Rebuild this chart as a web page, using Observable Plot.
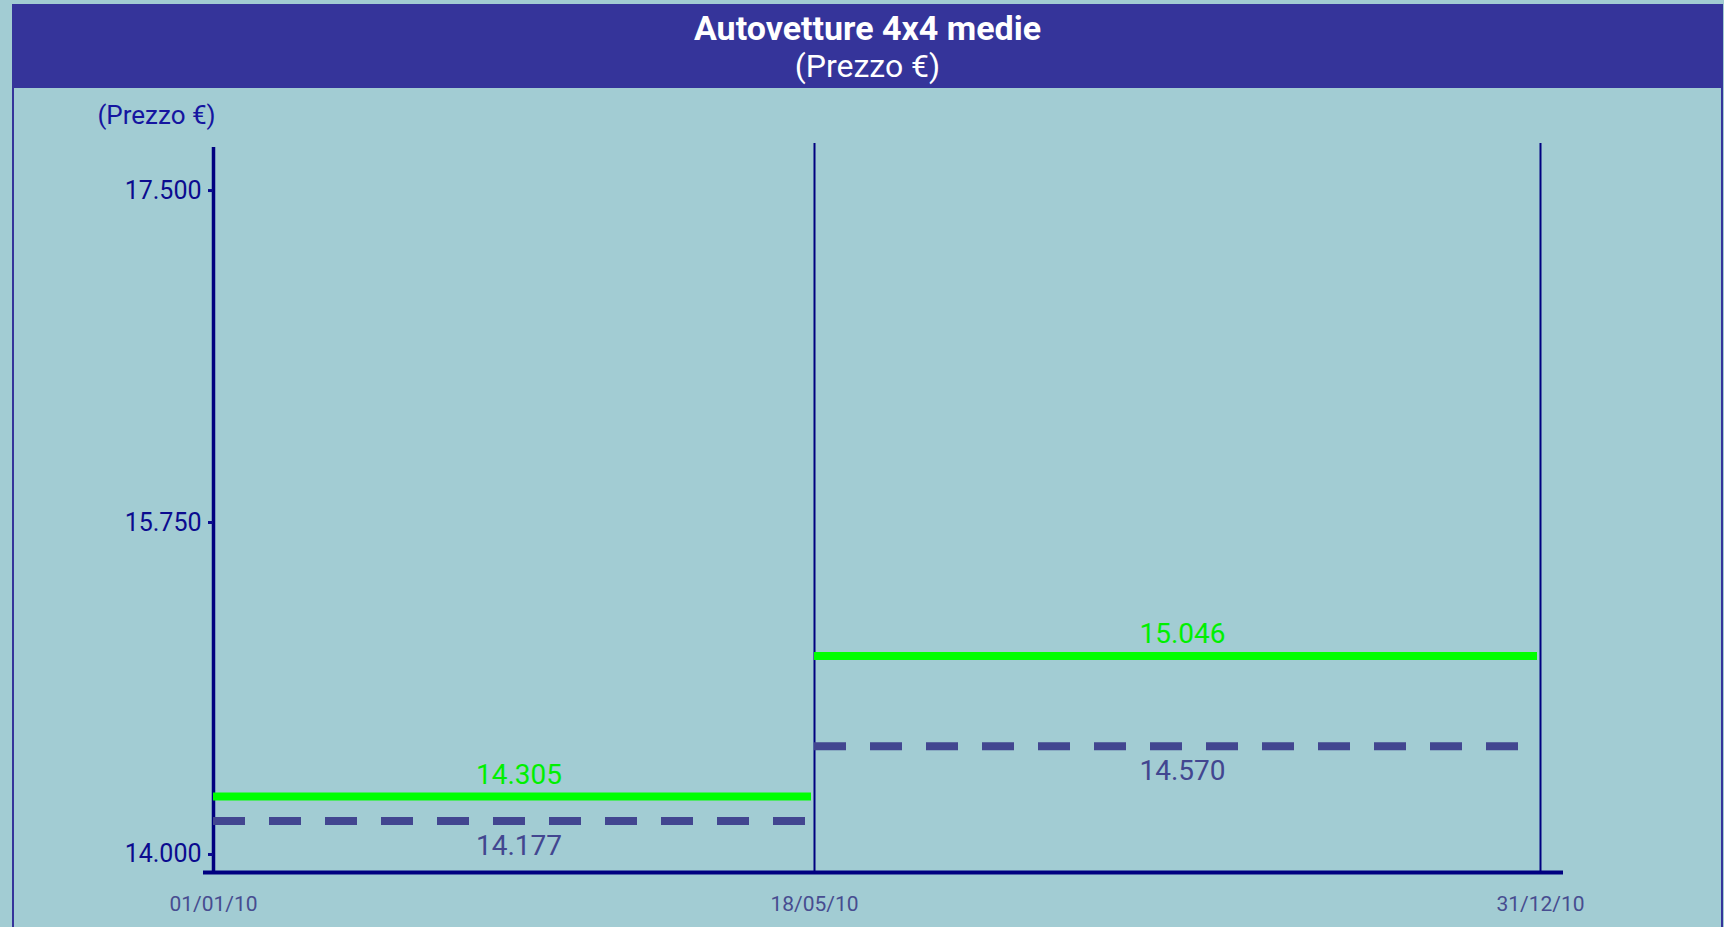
<!DOCTYPE html>
<html>
<head>
<meta charset="utf-8">
<script src="https://cdn.jsdelivr.net/npm/d3@7"></script>
<script src="https://cdn.jsdelivr.net/npm/@observablehq/plot@0.6"></script>
<style>
  html, body { margin: 0; padding: 0; }
  body { width: 1724px; height: 927px; overflow: hidden; position: relative; background: #A2CCD3; font-family: Roboto, "Noto Sans", sans-serif; }
  #banner { position: absolute; left: 12px; top: 4px; width: 1711px; height: 84px; background: #35349A; color: #fff; text-align: center; box-sizing: border-box; padding-top: 5px; }
  #banner .t { font-weight: bold; font-size: 34px; line-height: 38px; }
  #banner .s { font-size: 32px; line-height: 38px; }
  #frame { position: absolute; left: 12px; top: 88px; width: 1711px; height: 839px; box-sizing: border-box; border-left: 2px solid #35349A; border-right: 2px solid #35349A; pointer-events: none; }
  #chart { position: absolute; left: 0; top: 88px; }
</style>
</head>
<body>
<div id="banner"><div class="t">Autovetture 4x4 medie</div><div class="s">(Prezzo €)</div></div>
<div id="frame"></div>
<div id="chart"></div>
<script>
// ---- data ----
const axisDates = ["2010-01-01", "2010-05-18", "2010-12-31"];
const axisDateLabels = ["01/01/10", "18/05/10", "31/12/10"];
const periodStart = ["2010-01-01", "2010-05-18"];
const periodEnd = ["2010-05-18", "2010-12-31"];
const priceSolid = [14305, 15046];   // green line
const priceDashed = [14177, 14570];  // dashed line
const yTicks = [14000, 15750, 17500];
const yLabel = "(Prezzo €)";

// ---- helpers ----
const parse = d3.utcParse("%Y-%m-%d");
const dates = axisDates.map(parse);
const labelByTime = new Map(dates.map((d, i) => [+d, axisDateLabels[i]]));
const fmt = d3.formatLocale({decimal: ",", thousands: ".", grouping: [3], currency: ["", "€"]}).format(",d");

const periods = periodStart.map((s, i) => {
  const a = parse(s), b = parse(periodEnd[i]);
  return {start: a, end: b, mid: new Date((+a + +b) / 2), solid: priceSolid[i], dashed: priceDashed[i]};
});

const navy = "#000080";

const chart = Plot.plot({
  width: 1724,
  height: 839,
  marginLeft: 213,
  marginRight: 184,
  marginTop: 59,
  marginBottom: 55,
  style: {background: "transparent", fontFamily: "Roboto, sans-serif", overflow: "visible"},
  x: {type: "utc", domain: dates, range: [213, 814, 1540]},
  y: {domain: [13905, 17727]},
  marks: [
    // vertical grid lines at period boundaries
    Plot.ruleX(dates.slice(1), {stroke: navy, strokeWidth: 2, insetTop: -4}),
    // y axis line
    Plot.ruleX([dates[0]], {stroke: navy, strokeWidth: 3.5}),
    // x axis line
    Plot.ruleY([13905], {stroke: navy, strokeWidth: 4, insetLeft: -10, insetRight: -23}),
    Plot.axisY(yTicks, {
      tickFormat: fmt, tickSize: 5, tickPadding: 7, fontSize: 25,
      color: "#0B0B8F", strokeWidth: 3, label: null
    }),
    Plot.axisX(dates, {
      tickFormat: d => labelByTime.get(+d), tickSize: 0, tickPadding: 24, fontSize: 21,
      color: "#474C90", label: null
    }),
    Plot.text([yLabel], {frameAnchor: "top-left", dx: -57, dy: -42, fontSize: 26, fill: "#1515A0", textAnchor: "middle"}),
    // dashed series
    Plot.ruleY(periods, {x1: "start", x2: "end", y: "dashed", stroke: "#424690", strokeWidth: 8, strokeDasharray: "32,24", insetRight: 3}),
    // solid green series
    Plot.ruleY(periods, {x1: "start", x2: "end", y: "solid", stroke: "#00FF00", strokeWidth: 8, insetRight: 3}),
    Plot.text(periods, {x: "mid", y: "solid", text: d => fmt(d.solid), dy: -22, dx: 5, fontSize: 28, fill: "#00F000"}),
    Plot.text(periods, {x: "mid", y: "dashed", text: d => fmt(d.dashed), dy: 25, dx: 5, fontSize: 28, fill: "#424690"})
  ]
});
document.getElementById("chart").appendChild(chart);
</script>
</body>
</html>
